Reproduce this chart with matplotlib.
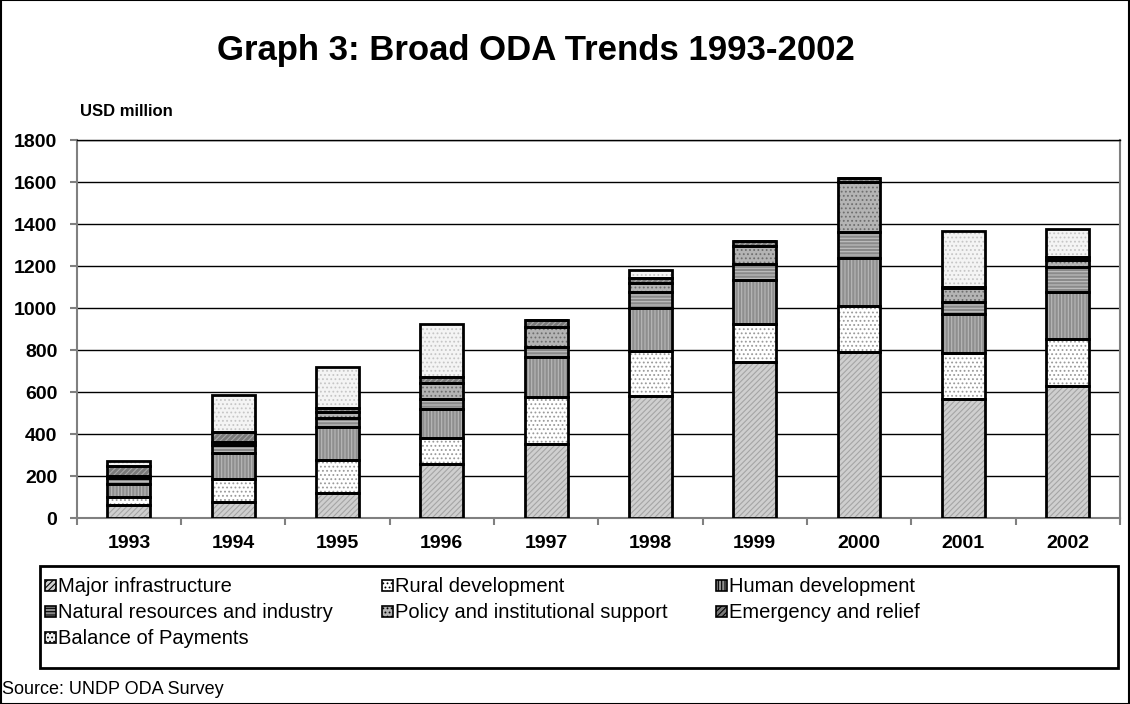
import matplotlib
matplotlib.use("Agg")
import matplotlib.pyplot as plt
from matplotlib.patches import Rectangle
import numpy as np

plt.rcParams["font.family"] = ["Liberation Sans", "DejaVu Sans"]
plt.rcParams["hatch.linewidth"] = 0.8

years = ["1993", "1994", "1995", "1996", "1997", "1998", "1999", "2000", "2001", "2002"]
major_infra = [62, 77, 119, 259, 354, 584, 743, 794, 567, 630]
rural_dev = [39, 110, 159, 122, 222, 215, 181, 218, 219, 224]
human_dev = [64, 125, 159, 138, 191, 201, 211, 227, 186, 226]
natural_res = [27, 35, 39, 48, 48, 77, 77, 127, 60, 119]
policy_support = [11, 18, 32, 79, 98, 43, 85, 238, 64, 32]
emergency = [45, 46, 16, 26, 32, 27, 26, 16, 5, 16]
balance_payments = [24, 176, 198, 252, 0, 36, 0, 0, 266, 130]

series_names = ["Major infrastructure", "Rural development", "Human development",
                "Natural resources and industry", "Policy and institutional support",
                "Emergency and relief", "Balance of Payments"]
series_vals = [major_infra, rural_dev, human_dev, natural_res,
               policy_support, emergency, balance_payments]

# face colour, hatch, hatch colour for each series
styles = [
    ("#cfcfcf", "//////", "#a5a5a5"),
    ("#ffffff", "....", "#9a9a9a"),
    ("#8e8e8e", "|||||", "#b8b8b8"),
    ("#8a8a8a", "-----", "#c0c0c0"),
    ("#b4b4b4", "....", "#6e6e6e"),
    ("#7a7a7a", "//////", "#a8a8a8"),
    ("#f4f4f4", "....", "#c6c6c6"),
]

fig = plt.figure(figsize=(11.3, 7.04), dpi=100)
ax = fig.add_axes([0.0679, 0.2638, 0.9231, 0.5367])

x = np.arange(len(years))
bottom = np.zeros(len(years))
for vals, (fc, hatch, hc) in zip(series_vals, styles):
    vals = np.array(vals, dtype=float)
    ax.bar(x, vals, width=0.41, bottom=bottom, color=fc, hatch=hatch,
           edgecolor=hc, linewidth=0, zorder=3)
    ax.bar(x, vals, width=0.41, bottom=bottom, facecolor="none",
           edgecolor="black", linewidth=2, zorder=4)
    bottom += vals

ax.set_xlim(-0.5, len(years) - 0.5)
ax.set_ylim(0, 1800)
ax.set_yticks(np.arange(0, 1801, 200))
ax.set_yticklabels([str(v) for v in range(0, 1801, 200)], fontsize=14, fontweight="bold")
ax.yaxis.grid(True, color="black", linewidth=1, zorder=0)
ax.set_axisbelow(True)

ax.set_xticks(np.arange(-0.5, len(years), 1))
ax.set_xticklabels([])
ax.set_xticks(x, minor=True)
ax.set_xticklabels(years, minor=True, fontsize=14, fontweight="bold")
ax.tick_params(axis="x", which="minor", length=0, pad=12)
ax.tick_params(axis="x", which="major", length=5, color="#808080", width=1.5)
ax.tick_params(axis="y", length=5, color="#808080", width=1.5, pad=9)

for side in ["left", "bottom", "right"]:
    ax.spines[side].set_color("#808080")
    ax.spines[side].set_linewidth(1.5)
ax.spines["top"].set_color("black")
ax.spines["top"].set_linewidth(1)

fig.text(0.474, 0.928, "Graph 3: Broad ODA Trends 1993-2002", fontsize=25,
         fontweight="bold", ha="center", va="center")
fig.text(0.071, 0.842, "USD million", fontsize=12, fontweight="bold",
         ha="left", va="center")

# legend box drawn by hand, filled row by row
W, H = 1130, 704
fig.patches.append(Rectangle((40 / W, 1 - 668 / H), 1078 / W, 102 / H,
                             transform=fig.transFigure, facecolor="none",
                             edgecolor="black", linewidth=2))
col_x = [45, 382, 716]
row_y = [585, 611, 637]
for i, (name, (fc, hatch, hc)) in enumerate(zip(series_names, styles)):
    cx = col_x[i % 3]
    cy = row_y[i // 3]
    sw = 11
    fig.patches.append(Rectangle((cx / W, 1 - (cy + sw / 2) / H), sw / W, sw / H,
                                 transform=fig.transFigure, facecolor=fc,
                                 hatch=hatch, edgecolor="black", linewidth=1.2))
    fig.text((cx + sw + 2) / W, 1 - (cy + 1) / H, name, fontsize=14.5,
             ha="left", va="center")

fig.text(2 / W, 1 - 689 / H, "Source: UNDP ODA Survey", fontsize=13,
         ha="left", va="center")

# outer frame
fig.patches.append(Rectangle((0.0005, 0.0005), 0.999, 0.999,
                             transform=fig.transFigure, facecolor="none",
                             edgecolor="black", linewidth=1.5))

fig.savefig("out.png", dpi=100)
